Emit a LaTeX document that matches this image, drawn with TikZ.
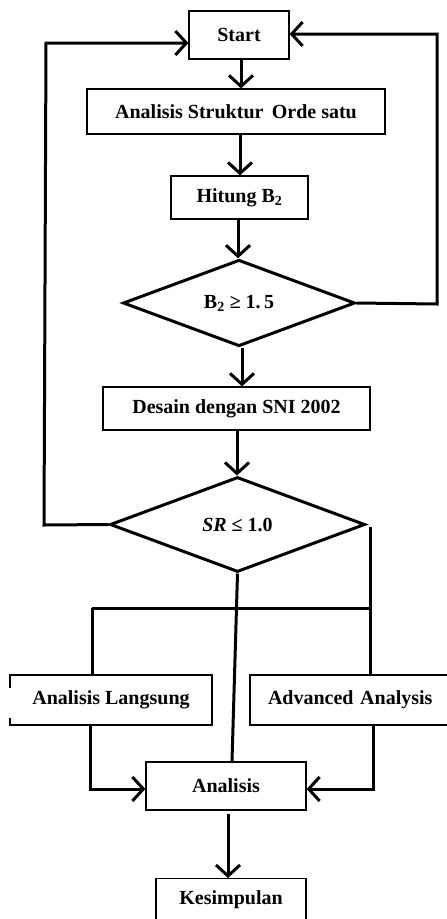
\documentclass[tikz,border=0pt]{standalone}
\usepackage{fontspec}
\setmainfont{Liberation Serif}
\usetikzlibrary{arrows.meta,shapes.geometric}
\begin{document}
\begin{tikzpicture}[x=1pt,y=-1pt,
  box/.style={draw,line width=1.2pt,rectangle,inner sep=0pt,font=\fontsize{20}{24}\selectfont\bfseries},
  dec/.style={draw,line width=3pt,diamond,inner sep=0pt,font=\fontsize{20}{24}\selectfont\bfseries},
  conn/.style={line width=3pt},
  arr/.style={line width=3pt,-{Straight Barb[length=11pt,width=24pt]}},
]
\useasboundingbox (0,0) rectangle (447,919);
\begin{scope}
\clip (0,0) rectangle (447,919);
\node[box,minimum width=100pt,minimum height=48pt] (start) at (239,35) {Start};
\node[box,minimum width=298pt,minimum height=45pt] (aso) at (236,111.5) {Analisis Struktur\, Orde satu};
\node[box,minimum width=137pt,minimum height=43pt] (hit) at (239.5,197.5) {Hitung B\textsubscript{2}};
\node[dec,minimum width=232pt,minimum height=86pt] (d1) at (239,303) {B\textsubscript{2} ≥ 1.\,5};
\node[box,minimum width=267pt,minimum height=43pt] (des) at (236.5,408.5) {Desain dengan SNI 2002};
\node[dec,minimum width=255pt,minimum height=95pt] (d2) at (237.5,524.5) {\textit{SR} ≤ 1.0};
\node[box,minimum width=202pt,minimum height=50pt] (al) at (111,700) {Analisis Langsung};
\node[box,minimum width=210pt,minimum height=50pt,text width=200pt,align=left] (aa) at (355,700) {\hspace*{13pt}Advanced Analysis};
\node[box,minimum width=160pt,minimum height=48pt] (an) at (226,786) {Analisis};
\node[box,minimum width=150pt,minimum height=60pt,text depth=22pt,anchor=north] (kes) at (231,878) {Kesimpulan};
\draw[white,line width=3pt] (al.west |- 0,688) -- (al.west |- 0,718);
\end{scope}

\coordinate (r1) at (437,304);
\coordinate (r2) at (437,34);
\coordinate (l1) at (44,525);
\coordinate (l2) at (46,43);
\coordinate (hl) at (92,608);
\coordinate (hr) at (370,608);
\coordinate (rt) at (370,527);
\coordinate (lb) at (90,789);
\coordinate (rb) at (373,789);

\draw[arr] (start.south -| 241,0) -- (aso.north -| 241,0);
\draw[arr] (aso.south -| 240,0) -- (hit.north -| 240,0);
\draw[arr] (hit.south -| 238,0) -- (d1.north -| 238,0);
\draw[arr] (d1.south) ++(3,0) -- (des.north -| 242,0);
\draw[arr] (des.south -| 237,0) -- (d2.north -| 237,0);
\draw[arr] (d1.east) -- (r1) -- (r2) -- (start.east |- r2);
\draw[arr] (d2.west) -- (l1) -- (l2) -- (start.west |- l2);
\draw[conn] (d2.south) -- (an.north -| 232,0);
\draw[conn] (hl) -- (hr);
\draw[conn] (rt) -- (aa.north -| rt);
\draw[conn] (hl) -- (al.north -| hl);
\draw[arr] (al.south -| lb) -- (lb) -- (an.west |- lb);
\draw[arr] (aa.south -| rb) -- (rb) -- (an.east |- rb);
\draw[arr] (228,814) coordinate (ab) -- (kes.north -| ab);
\end{tikzpicture}
\end{document}
